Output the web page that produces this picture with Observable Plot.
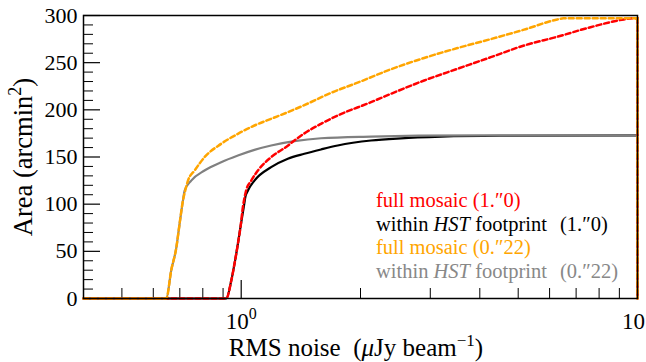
<!DOCTYPE html>
<html>
<head>
<meta charset="utf-8">
<script src="https://cdn.jsdelivr.net/npm/d3@7"></script>
<script src="https://cdn.jsdelivr.net/npm/@observablehq/plot@0.6"></script>
<style>
  html, body { margin: 0; padding: 0; background: #fff; overflow: hidden; }
  svg { overflow: hidden; }
</style>
</head>
<body>
<div id="chart"></div>
<script>
// ---- data ----
const seriesNames = ["full mosaic (1.0)", "within HST (1.0)", "full mosaic (0.22)", "within HST (0.22)"];

const noiseFull10 = [0.40, 0.917, 0.944, 0.962, 0.981, 0.996, 1.010, 1.023, 1.029, 1.060, 1.102, 1.190, 1.311, 1.362, 1.443, 1.590, 1.752, 2.126, 2.387, 2.895, 3.515, 4.264, 5.172, 6.278, 7.611, 9.237, 9.79, 10, 10];
const areaFull10  = [0, 0, 19, 37, 58, 76, 97, 110, 114.5, 125, 135.7, 149.8, 162, 167.5, 175, 185.2, 194, 208.1, 217, 231.1, 243.5, 255.8, 268.2, 277.5, 287.6, 295.8, 297.1, 297, 0];

const noiseHST10 = [0.40, 0.917, 0.944, 0.962, 0.981, 0.996, 1.015, 1.025, 1.040, 1.080, 1.190, 1.311, 1.443, 1.590, 1.752, 2.126, 2.529, 3.2, 4.5, 10];
const areaHST10  = [0, 0, 19, 37, 58, 76, 97, 108, 114.5, 125, 139.2, 148.1, 153.4, 158, 162.2, 167.5, 169.8, 171.5, 172.5, 173];

const noiseFull022 = [0.40, 0.647, 0.666, 0.686, 0.699, 0.713, 0.722, 0.734, 0.763, 0.808, 0.890, 0.981, 1.080, 1.190, 1.311, 1.443, 1.686, 2.0, 2.387, 2.895, 3.515, 4.264, 5.172, 6.278, 6.5, 9.9, 10, 10];
const areaFull022  = [0, 0, 30, 54, 79, 104, 114, 125, 135.7, 149.8, 164, 174.6, 183.4, 190.5, 197.5, 205, 218, 230, 243, 255, 265.5, 275, 285, 295.8, 297, 297, 297, 0];

const noiseHST022 = [0.40, 0.647, 0.666, 0.686, 0.699, 0.713, 0.720, 0.748, 0.808, 0.890, 0.981, 1.080, 1.190, 1.362, 1.590, 2.126, 2.8, 4, 10];
const areaHST022  = [0, 0, 30, 54, 79, 104, 114.5, 125, 135.7, 144.5, 151.6, 157.6, 162.2, 166.8, 169.9, 171.7, 172.6, 173, 173];

const yTicksMajor = [0, 50, 100, 150, 200, 250, 300];
const yTicksMinor = [10, 20, 30, 40, 60, 70, 80, 90, 110, 120, 130, 140, 160, 170, 180, 190, 210, 220, 230, 240, 260, 270, 280, 290];
const xTicksMajor = [1, 10];
const xTickLabels = ["10|0", "10|1"];
const xTicksMinor = [0.5, 0.6, 0.7, 0.8, 0.9, 2, 3, 4, 5, 6, 7, 8, 9];

// ---- build table ----
function toRows(xs, ys, name) { return xs.map((x, i) => ({x, y: ys[i], name})); }
const rowsFull10 = toRows(noiseFull10, areaFull10, seriesNames[0]);
const rowsHST10 = toRows(noiseHST10, areaHST10, seriesNames[1]);
const rowsFull022 = toRows(noiseFull022, areaFull022, seriesNames[2]);
const rowsHST022 = toRows(noiseHST022, areaHST022, seriesNames[3]);

const W = 646, H = 362, mL = 83, mR = 9, mT = 15, mB = 64;
const plotW = W - mL - mR, plotH = H - mT - mB;
const FONT = "Liberation Serif, Tinos, Times New Roman, Times, DejaVu Serif, serif";

const dashed = {x: "x", y: "y", strokeWidth: 2.5, strokeDasharray: "5,3"};

const chart = Plot.plot({
  width: W, height: H,
  marginLeft: mL, marginRight: mR, marginTop: mT, marginBottom: mB,
  style: {fontFamily: FONT, fontSize: "22px", color: "black", background: "white"},
  x: {type: "log", domain: [0.4, 10], axis: null},
  y: {domain: [0, 300], axis: null},
  marks: [
    // inward ticks
    Plot.ruleY(yTicksMinor, {y: d => d, stroke: "black", strokeWidth: 1, insetRight: plotW - 10}),
    Plot.ruleY(yTicksMajor, {y: d => d, stroke: "black", strokeWidth: 1.2, insetRight: plotW - 17}),
    Plot.ruleX(xTicksMinor, {x: d => d, stroke: "black", strokeWidth: 1, insetTop: plotH - 10}),
    Plot.ruleX(xTicksMajor, {x: d => d, stroke: "black", strokeWidth: 1.2, insetTop: plotH - 18}),
    // curves
    Plot.line(rowsHST10, {x: "x", y: "y", stroke: "#000000", strokeWidth: 2.2, curve: "monotone-x"}),
    Plot.line(rowsHST022, {x: "x", y: "y", stroke: "#808080", strokeWidth: 2.2, curve: "monotone-x"}),
    Plot.line(rowsFull10.slice(0, -1), {...dashed, stroke: "#ff0000", curve: "monotone-x"}),
    Plot.line(rowsFull10.slice(-2), {...dashed, stroke: "#ff0000"}),
    Plot.line(rowsFull022.slice(0, -2), {...dashed, stroke: "#ffa500", curve: "monotone-x"}),
    Plot.line(rowsFull022.slice(-3), {...dashed, stroke: "#ffa500"}),
    Plot.frame({stroke: "black", strokeWidth: 1.5}),
    // tick labels
    Plot.axisY(yTicksMajor, {anchor: "left", tickSize: 0, tickPadding: 6, label: null, fontSize: 22}),
    Plot.axisX(xTicksMajor, {anchor: "bottom", tickSize: 0, tickPadding: 14, label: null, fontSize: 23,
      tickFormat: d => xTickLabels[xTicksMajor.indexOf(d)]})
  ]
});

document.getElementById("chart").appendChild(chart);

const svg = d3.select(chart);

// superscripts in x tick labels
svg.selectAll('g[aria-label="x-axis tick label"] text').each(function() {
  const t = d3.select(this);
  const [base, sup] = t.text().split("|");
  t.text(null);
  t.append("tspan").text(base);
  t.append("tspan").attr("dy", "-10").attr("font-size", "16px").text(sup);
});

// axis titles
const yl = svg.append("text")
  .attr("transform", "translate(32,157) rotate(-90)")
  .attr("text-anchor", "middle")
  .attr("font-family", FONT).attr("font-size", "26.5px").attr("fill", "black");
yl.append("tspan").text("Area (arcmin");
yl.append("tspan").attr("dy", "-11").attr("font-size", "18px").text("2");
yl.append("tspan").attr("dy", "11").text(")");

const xl = svg.append("text")
  .attr("x", 356).attr("y", 356)
  .attr("text-anchor", "middle")
  .attr("font-family", FONT).attr("font-size", "25px").attr("fill", "black");
xl.append("tspan").text("RMS noise\u00a0\u00a0(");
xl.append("tspan").attr("font-style", "italic").text("\u03bc");
xl.append("tspan").text("Jy beam");
xl.append("tspan").attr("dy", "-10").attr("font-size", "17px").text("\u22121");
xl.append("tspan").attr("dy", "10").text(")");

// legend
const legendRows = [
  {y: 207, color: "#ff0000", parts: [["full mosaic (1.\u2033" + "0)", false]], right: null},
  {y: 230.5, color: "#000000", parts: [["within ", false], ["HST", true], [" footprint", false]], right: "(1.\u2033" + "0)"},
  {y: 254, color: "#ffa500", parts: [["full mosaic (0.\u2033" + "22)", false]], right: null},
  {y: 277.5, color: "#888888", parts: [["within ", false], ["HST", true], [" footprint", false]], right: "(0.\u2033" + "22)"}
];
legendRows.forEach(r => {
  const t = svg.append("text").attr("x", 376).attr("y", r.y)
    .attr("text-anchor", "start")
    .attr("font-family", FONT).attr("font-size", "20.5px").attr("fill", r.color)
    .style("white-space", "pre");
  r.parts.forEach(([s, it]) => {
    const sp = t.append("tspan").text(s);
    if (it) sp.attr("font-style", "italic");
  });
  if (r.right) {
    svg.append("text").attr("x", 560).attr("y", r.y)
      .attr("text-anchor", "start")
      .attr("font-family", FONT).attr("font-size", "20.5px").attr("fill", r.color)
      .text(r.right);
  }
});
</script>
</body>
</html>
